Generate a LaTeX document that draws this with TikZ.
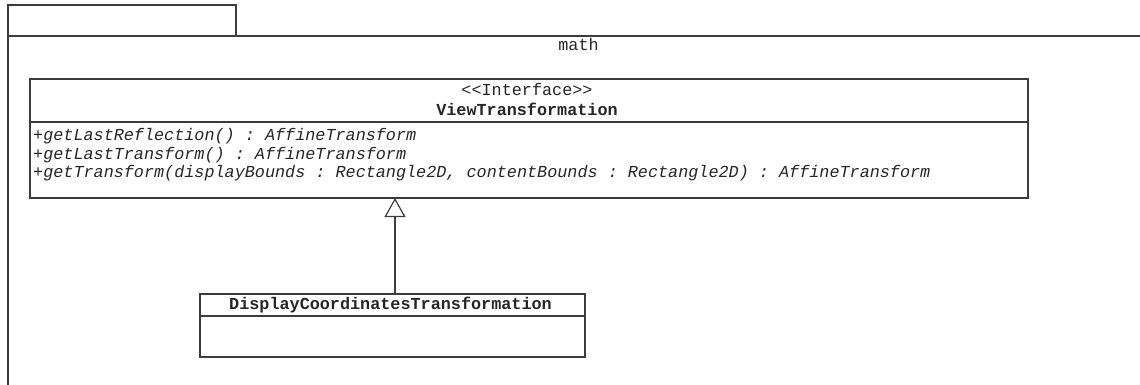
\documentclass[tikz,border=0pt]{standalone}
\usepackage{fontspec}
\setmonofont{Liberation Mono}
\usepackage{tikz}
\usetikzlibrary{positioning}
\usetikzlibrary{arrows.meta}
\definecolor{Linie}{HTML}{3C3C3C}
\newcommand{\umlschrift}{\ttfamily\fontsize{16.8}{20}\selectfont}
\tikzset{
  Kasten/.style={draw=Linie, line width=1.2pt, inner sep=0pt, outer sep=0pt}, % für Rahmen
  Text/.style={inner sep=0pt, font=\umlschrift, text=black!85, anchor=base}, % für Beschriftungen
  Methode/.style={Text, font=\umlschrift\itshape, anchor=base west}, % für Operationen
  Vererbung/.style={draw=Linie, line width=1.2pt, -{Triangle[open, length=19pt, width=21pt]}} % für Generalisierung
}

\begin{document}
\begin{tikzpicture}[x=1pt, y=-1pt]
\useasboundingbox (0,0) rectangle (1140,385);
\clip (0,0) rectangle (1140,385);

%Paket
\node[Kasten, anchor=north west, minimum width=228pt, minimum height=31pt] (Reiter) at (8,5) {};
\node[Kasten, anchor=north west, minimum width=1141pt, minimum height=380pt] (Paket) at (8,36) {};
\node[Text] (PaketName) at (578.5,51) {math};

%Klassen
\node[Kasten, anchor=north west, minimum width=998pt, minimum height=43pt] (VTkopf) at (30,79) {};
\node[Kasten, below=0pt of VTkopf, minimum width=998pt, minimum height=76pt] (VTrumpf) {};
\node[Text] (VTstereo) at (527,95.3) {<{}<Interface>{}>};
\node[Text, font=\umlschrift\bfseries] (VTname) at (527,115.7) {ViewTransformation};
\node[Methode] (VTop1) at (33,141) {+getLastReflection() : AffineTransform};
\node[Methode] (VTop2) at (33,159.3) {+getLastTransform() : AffineTransform};
\node[Methode] (VTop3) at (33,177.7) {+getTransform(displayBounds : Rectangle2D, contentBounds : Rectangle2D) : AffineTransform};

\node[Kasten, anchor=north west, minimum width=385pt, minimum height=22pt] (DCkopf) at (200,294) {};
\node[Kasten, below=0pt of DCkopf, minimum width=385pt, minimum height=41pt] (DCrumpf) {};
\node[Text, font=\umlschrift\bfseries] (DCname) at (390.5,309.5) {DisplayCoordinatesTransformation};

%Vererbung
\draw[Vererbung] ([xshift=2.5pt]DCkopf.north) -- ([xshift=2.5pt]DCkopf.north |- VTrumpf.south);

\end{tikzpicture}
\end{document}
